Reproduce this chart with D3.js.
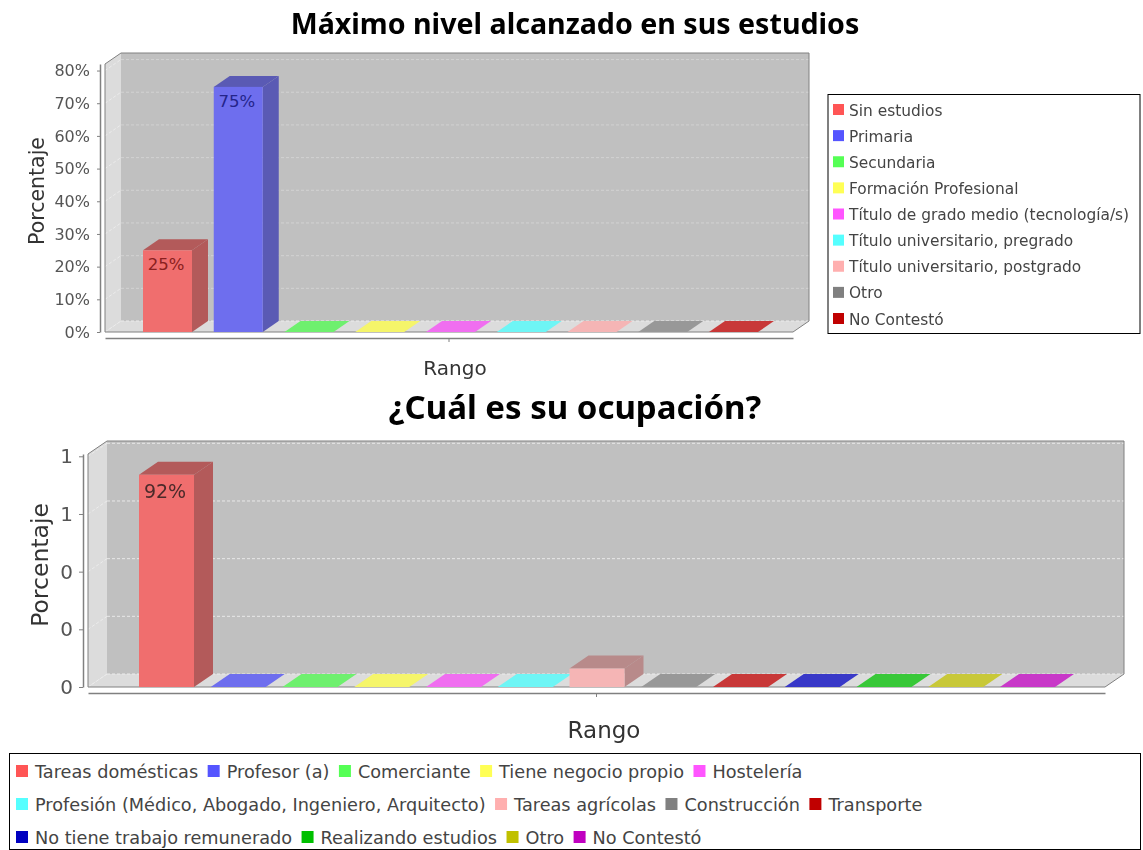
<!DOCTYPE html>
<html><head><meta charset="utf-8">
<script src="https://cdn.jsdelivr.net/npm/d3@7/dist/d3.min.js"></script>
<style>html,body{margin:0;background:#fff}svg{display:block;filter:blur(0.4px)}text{font-family:"DejaVu Sans",sans-serif}</style>
</head><body><svg id="c" width="1143" height="850"></svg>
<script>
const studyCategories = ["Sin estudios","Primaria","Secundaria","Formación Profesional","Título de grado medio (tecnología/s)","Título universitario, pregrado","Título universitario, postgrado","Otro","No Contestó"];
const studyValues = [25,75,0,0,0,0,0,0,0];
const studyTicks = [0,10,20,30,40,50,60,70,80];
const studyTickLabels = ["0%","10%","20%","30%","40%","50%","60%","70%","80%"];
const jobCategories = ["Tareas domésticas","Profesor (a)","Comerciante","Tiene negocio propio","Hostelería","Profesión (Médico, Abogado, Ingeniero, Arquitecto)","Tareas agrícolas","Construcción","Transporte","No tiene trabajo remunerado","Realizando estudios","Otro","No Contestó"];
const jobValues = [0.92,0,0,0,0,0,0.08,0,0,0,0,0,0];
const jobTicks = [0,0.25,0.5,0.75,1];
const jobTickLabels = ["0","0","0","1","1"];
const jobValueLabels = ["92%","","","","","","","","","","","",""];
const studyValueLabels = ["25%","75%","","","","","","",""];
const swatch = ["#ff5555","#5555ff","#55ff55","#ffff55","#ff55ff","#55ffff","#ffafaf","#808080","#c00000","#0000c0","#00c000","#c0c000","#c000c0"];
const barFront = ["#f06e6e","#6e6eee","#6ef06e","#f5f56a","#f06ef0","#6ef5f5","#f5b5b5","#989898","#c83838","#3838c8","#38c838","#c8c838","#c838c8"];
const barDark = ["#b35a5a","#5a5ab4","#5ab45a","#b4b45a","#b45ab4","#5ab4b4","#b88a8a","#707070","#963030","#303096","#309630","#969630","#963096"];

const svg = d3.select("#c");
const gray = "#808080";

function chart(o){
  const g = svg.append("g");
  const {x0,x1,yB,yT,dx,dy} = o;
  const y = d3.scaleLinear().domain([0,o.yMax]).range([yB,yT]);
  const x = d3.scaleLinear().domain([0,o.values.length-1]).range([o.firstBar,o.lastBar]);
  const poly = a => a.map(p=>p.join(",")).join(" ");
  g.append("rect").attr("x",x0+dx).attr("y",yT-dy).attr("width",x1-x0).attr("height",yB-yT).attr("fill","#c0c0c0");
  g.append("polygon").attr("points",poly([[x0,yT],[x0+dx,yT-dy],[x0+dx,yB-dy],[x0,yB]])).attr("fill","#dcdcdc");
  g.append("polygon").attr("points",poly([[x0,yB],[x0+dx,yB-dy],[x1+dx,yB-dy],[x1,yB]])).attr("fill","#dcdcdc");
  g.selectAll(".gr").data(o.ticks.filter(t=>t>0)).join("line").attr("x1",x0+dx).attr("x2",x1+dx)
    .attr("y1",d=>y(d)-dy).attr("y2",d=>y(d)-dy).attr("stroke",o.gridColor).attr("stroke-dasharray","3,2");
  g.selectAll(".gl").data(o.ticks).join("line").attr("x1",x0).attr("x2",x0+dx)
    .attr("y1",d=>y(d)).attr("y2",d=>y(d)-dy).attr("stroke","#ececec").attr("stroke-dasharray","3,2");
  g.append("line").attr("x1",x0+dx).attr("x2",x1+dx).attr("y1",yB-dy).attr("y2",yB-dy).attr("stroke","#ececec").attr("stroke-dasharray","3,2");
  g.append("path").attr("fill","none").attr("stroke",gray).attr("stroke-width",1)
    .attr("d",d3.line()([[x0,yB],[x0,yT],[x0+dx,yT-dy],[x1+dx,yT-dy],[x1+dx,yB-dy],[x1,yB],[x0,yB]]));
  const b = g.selectAll(".bar").data(o.values).join("g");
  b.append("polygon").attr("points",(d,i)=>{const l=x(i),r=l+o.barW,t=y(d);return poly([[r,t],[r+dx,t-dy],[r+dx,yB-dy],[r,yB]]);}).attr("fill",(d,i)=>barDark[i]);
  b.append("polygon").attr("points",(d,i)=>{const l=x(i),r=l+o.barW,t=y(d);return poly([[l,t],[l+dx,t-dy],[r+dx,t-dy],[r,t]]);})
    .attr("fill",(d,i)=>d>0?barDark[i]:barFront[i]);
  b.append("rect").attr("x",(d,i)=>x(i)).attr("y",d=>y(d)).attr("width",o.barW).attr("height",d=>yB-y(d)).attr("fill",(d,i)=>barFront[i]);
  b.append("text").attr("x",(d,i)=>x(i)+o.barW/2-1.5).attr("y",d=>y(d)+o.labelOff).attr("text-anchor","middle")
    .attr("font-size",o.labelSize).attr("fill",(d,i)=>o.labelColor[i]||"#333").text((d,i)=>o.valueLabels[i]);
  const ay = g.append("g").attr("transform",`translate(${x0-5},0)`)
    .call(d3.axisLeft(y).tickValues(o.ticks).tickSize(o.tickLen).tickSizeOuter(0).tickPadding(o.tickPad).tickFormat((d,i)=>o.tickLabels[i]));
  ay.select(".domain").attr("stroke",gray).attr("stroke-width",1.5);
  ay.selectAll("line").attr("stroke",gray);
  ay.selectAll("text").attr("font-size",o.tickSize).attr("fill","#555").style("font-family",'"DejaVu Sans",sans-serif');
  const bandX = d3.scaleBand().domain(["Rango"]).range([x0,x1]);
  const ax = g.append("g").attr("transform",`translate(0,${yB+6})`).call(d3.axisBottom(bandX).tickSize(4).tickSizeOuter(0).tickFormat(""));
  ax.select(".domain").attr("stroke",gray).attr("stroke-width",1.5);
  ax.selectAll("line").attr("stroke",gray);
  g.append("text").attr("x",o.xLabel[0]).attr("y",o.xLabel[1]).attr("text-anchor","middle").attr("font-size",o.axisX).attr("fill","#333").text("Rango");
  g.append("text").attr("transform",`translate(${o.yLabel[0]},${o.yLabel[1]}) rotate(-90)`).attr("text-anchor","middle").attr("font-size",o.axisY).attr("fill","#333").text("Porcentaje");
  g.append("text").attr("x",o.title[0]).attr("y",o.title[1]).attr("text-anchor","middle").attr("font-size",o.titleSize).attr("font-weight","bold")
    .style("font-family",'"Noto Sans",sans-serif').attr("fill","#000").text(o.titleText);
}

chart({x0:105,x1:793,yB:332,yT:64,dx:16,dy:11,firstBar:143,lastBar:709,barW:49,values:studyValues,yMax:82,ticks:studyTicks,tickLabels:studyTickLabels,
  valueLabels:studyValueLabels,labelOff:20,labelSize:16.5,labelColor:["#8a2020","#24248a"],gridColor:"#d2d2d2",tickLen:3,tickPad:7,tickSize:16,axisX:20,axisY:20.5,
  xLabel:[455,375],yLabel:[44,191],title:[575,34],titleSize:28.6,titleText:"Máximo nivel alcanzado en sus estudios"});
chart({x0:88,x1:1105,yB:687,yT:454,dx:19,dy:13,firstBar:139,lastBar:1000,barW:55,values:jobValues,yMax:1.01,ticks:jobTicks,tickLabels:jobTickLabels,
  valueLabels:jobValueLabels,labelOff:23,labelSize:19,labelColor:["#4a2a2a"],gridColor:"#e8e8e8",tickLen:4,tickPad:6,tickSize:20,axisX:23,axisY:23.5,
  xLabel:[604,738],yLabel:[48,565],title:[575,419],titleSize:33,titleText:"¿Cuál es su ocupación?"});

const lt = svg.append("g");
lt.append("rect").attr("x",828).attr("y",94.5).attr("width",312).attr("height",239).attr("fill","#fff").attr("stroke","#000");
const rowY = d3.scalePoint().domain(d3.range(studyCategories.length)).range([110,319]);
const li = lt.selectAll(".i").data(studyCategories).join("g").attr("transform",(d,i)=>`translate(0,${rowY(i)})`);
li.append("rect").attr("x",833).attr("y",-6).attr("width",11).attr("height",11).attr("fill",(d,i)=>swatch[i]);
li.append("text").attr("x",849).attr("y",5.5).attr("font-size",15.4).attr("fill","#444").text(d=>d);

const lb = svg.append("g");
lb.append("rect").attr("x",9.5).attr("y",753.5).attr("width",1131).attr("height",96).attr("fill","#fff").attr("stroke","#000");
const rows = [[0,1,2,3,4],[5,6,7,8],[9,10,11,12]];
const rowsY = [772,805,838];
rows.forEach((r,ri)=>{
  let cx = 16;
  r.forEach(i=>{
    lb.append("rect").attr("x",cx).attr("y",rowsY[ri]-7).attr("width",12).attr("height",12).attr("fill",swatch[i]);
    const t = lb.append("text").attr("x",cx+19).attr("y",rowsY[ri]+6).attr("font-size",17.7).attr("fill","#444").text(jobCategories[i]);
    cx += 19 + t.node().getComputedTextLength() + 9.5;
  });
});
</script></body></html>
